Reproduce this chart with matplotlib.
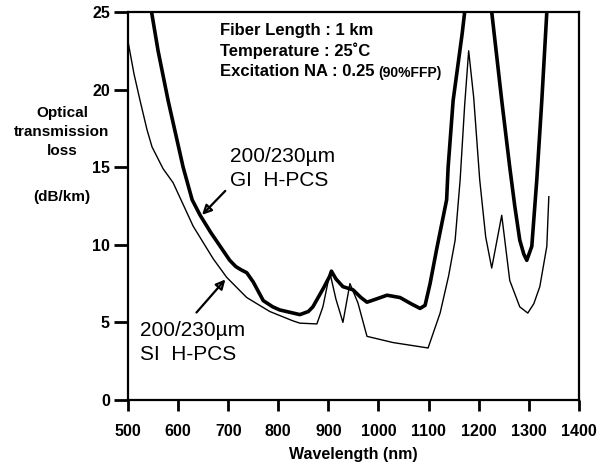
import numpy as np
import matplotlib.pyplot as plt

plt.rcParams['font.family'] = ['Liberation Sans', 'DejaVu Sans']

# GI H-PCS (thick curve), NaN = off the top of the chart
gi_wl = [547, 560, 580, 610, 628, 644, 665, 684, 703, 715, 725, 737, 750, 770, 789,
         803, 823, 843, 860, 869, 890, 903, 906, 915, 929, 949, 965, 977, 995, 1017, 1043,
         1065, 1083, 1093, 1103, 1116, 1136, 1139, 1149, 1167, 1172, 1200,
         1226, 1246, 1262, 1272, 1282, 1290, 1296, 1306, 1316, 1326, 1336]
gi_loss = [25.0, 22.5, 19.3, 15.0, 12.9, 11.9, 10.8, 9.9, 9.0, 8.6, 8.4, 8.2, 7.6, 6.4, 6.0,
           5.8, 5.65, 5.5, 5.7, 6.0, 7.2, 8.0, 8.3, 7.8, 7.3, 7.1, 6.6, 6.3, 6.5, 6.75, 6.6,
           6.2, 5.9, 6.1, 7.5, 9.7, 12.9, 15.0, 19.3, 23.6, 25.0, np.nan,
           25.0, 19.3, 15.0, 12.5, 10.3, 9.4, 9.0, 9.9, 14.2, 19.3, 25.0]

# SI H-PCS (thin curve)
si_wl = [500, 512, 524, 538, 548, 570, 590, 610, 630, 670, 697, 737, 783, 829, 843, 877,
         889, 903, 915, 929, 943, 959, 977, 1029, 1099, 1123, 1140, 1153, 1163,
         1172, 1180, 1190, 1202, 1214, 1226, 1246, 1262, 1282, 1298, 1310, 1322,
         1336, 1340]
si_loss = [23.1, 21.0, 19.3, 17.4, 16.3, 14.9, 14.0, 12.6, 11.2, 9.1, 7.9, 6.6, 5.7, 5.1, 4.95, 4.9,
           6.0, 8.2, 6.5, 5.0, 7.5, 6.25, 4.1, 3.7, 3.35, 5.6, 8.0, 10.3, 14.2,
           19.0, 22.5, 19.5, 14.2, 10.5, 8.5, 11.9, 7.7, 6.0, 5.6, 6.2, 7.3,
           9.9, 13.1]

xticks = [500, 600, 700, 800, 900, 1000, 1100, 1200, 1300, 1400]
yticks = [0, 5, 10, 15, 20, 25]

fig = plt.figure(figsize=(6.03, 4.70), dpi=100)
ax = fig.add_axes([0.2123, 0.149, 0.7477, 0.8255])

ax.plot(gi_wl, gi_loss, color='black', lw=2.6, solid_joinstyle='round')
ax.plot(si_wl, si_loss, color='black', lw=1.0)

ax.set_xlim(500, 1400)
ax.set_ylim(0, 25)
ax.set_xticks(xticks)
ax.set_yticks(yticks)
for s in ax.spines.values():
    s.set_linewidth(1.6)
ax.tick_params(axis='x', direction='out', length=8, width=2, pad=9, labelsize=11.5)
ax.tick_params(axis='y', direction='out', length=10, width=2, pad=3, labelsize=11.5)
for lab in ax.get_xticklabels() + ax.get_yticklabels():
    lab.set_fontweight('bold')

ax.set_xlabel('Wavelength (nm)', fontsize=11.5, fontweight='bold', labelpad=6)

# y axis label, written as free text left of the ticks
fig.text(62 / 603, 1 - 132 / 470, 'Optical\ntransmission\nloss', ha='center', va='center',
         fontsize=11, fontweight='bold', linespacing=1.45)
fig.text(62 / 603, 1 - 197 / 470, '(dB/km)', ha='center', va='center',
         fontsize=11, fontweight='bold')

# measurement conditions
fig.text(220 / 603, 1 - 31 / 470, 'Fiber Length : 1 km', ha='left', va='center',
         fontsize=12, fontweight='bold')
fig.text(220 / 603, 1 - 51 / 470, 'Temperature : 25\u02daC', ha='left', va='center',
         fontsize=12, fontweight='bold')
t = fig.text(220 / 603, 1 - 72 / 470, 'Excitation NA : 0.25', ha='left', va='center',
             fontsize=12, fontweight='bold')
ax.annotate('(90%FFP)', xy=(1, 0.45), xycoords=t, xytext=(3, 0), textcoords='offset points',
            ha='left', va='center', fontsize=10, fontweight='bold')

# curve labels with arrows
ax.text(703, 14.9, '200/230\u00b5m\nGI  H-PCS', ha='left', va='center',
        fontsize=15, linespacing=1.3)
ax.annotate('', xy=(644, 11.8), xytext=(698, 13.6),
            arrowprops=dict(arrowstyle='-|>', color='black', lw=1.6, mutation_scale=14,
                            fill=False))
ax.text(524, 3.7, '200/230\u00b5m\nSI  H-PCS', ha='left', va='center',
        fontsize=15, linespacing=1.3)
ax.annotate('', xy=(698, 7.9), xytext=(633, 5.5),
            arrowprops=dict(arrowstyle='-|>', color='black', lw=1.6, mutation_scale=14,
                            fill=False))

fig.savefig('out.png', dpi=100)
